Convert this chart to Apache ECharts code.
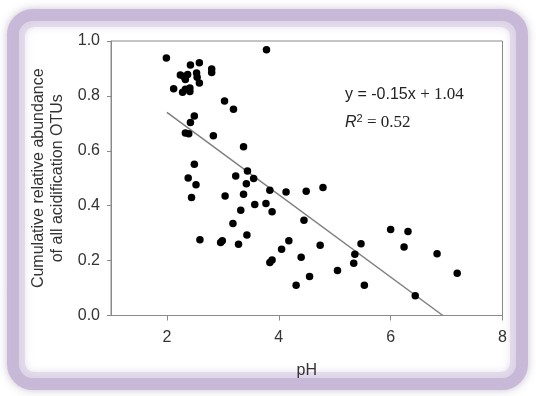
<!DOCTYPE html>
<html>
<head>
<meta charset="utf-8">
<script src="https://cdn.jsdelivr.net/npm/echarts@6/dist/echarts.min.js"></script>
<style>
html,body{margin:0;padding:0;background:#ffffff;}
#chart{width:536px;height:396px;}
</style>
</head>
<body>
<div id="chart"></div>
<script>
// pH values of each sample
const phValues = [
  1.99, 2.42, 2.58, 2.80, 2.80, 2.24, 2.30, 2.37, 2.53, 2.54,
  2.33, 2.58, 2.12, 2.28, 2.33, 2.41, 2.41, 3.03, 3.19, 2.49,
  2.42, 2.33, 2.39, 2.83, 3.37, 3.78, 2.49, 2.38, 3.23, 3.44,
  3.55, 3.42, 2.52, 2.44, 3.04, 3.37, 3.84, 4.13, 4.49, 4.79,
  3.57, 3.77, 3.88, 3.32, 4.45, 3.18, 3.43, 2.59, 2.96, 2.99,
  3.28, 4.18, 4.05, 3.84, 3.88, 4.40, 4.74, 4.31, 4.55, 5.05,
  5.47, 5.36, 5.34, 5.53, 6.00, 6.31, 6.24, 6.83, 7.19, 6.44
];
// cumulative relative abundance of acidification OTUs
const abundanceValues = [
  0.938, 0.913, 0.921, 0.898, 0.885, 0.876, 0.871, 0.878, 0.883, 0.868,
  0.860, 0.847, 0.826, 0.813, 0.824, 0.829, 0.816, 0.781, 0.751, 0.727,
  0.703, 0.665, 0.662, 0.655, 0.615, 0.968, 0.551, 0.501, 0.508, 0.526,
  0.499, 0.480, 0.476, 0.430, 0.435, 0.442, 0.456, 0.450, 0.453, 0.466,
  0.404, 0.408, 0.378, 0.383, 0.347, 0.335, 0.293, 0.276, 0.266, 0.272,
  0.260, 0.272, 0.241, 0.193, 0.202, 0.212, 0.256, 0.110, 0.142, 0.164,
  0.261, 0.223, 0.190, 0.110, 0.313, 0.306, 0.250, 0.225, 0.154, 0.072
];
// regression
const slope = -0.15;
const intercept = 1.04;
const rSquared = 0.52;
const fitStart = [2];
// axis ticks
const xTicks = [2, 4, 6, 8];
const yTicks = [0, 0.2, 0.4, 0.6, 0.8, 1.0];

const points = phValues.map((x, i) => [x, abundanceValues[i]]);
const fitEnd = -intercept / slope;
const fitLine = [[fitStart[0], intercept + slope * fitStart[0]], [fitEnd, 0]];

const sans = 'Liberation Sans, Arial, sans-serif';
const serif = 'Liberation Serif, Times New Roman, serif';
const txt = '#333333';
const axisCol = '#8a8a8a';

const chart = echarts.init(document.getElementById('chart'), null, {renderer: 'canvas'});
chart.setOption({
  animation: false,
  backgroundColor: '#ffffff',
  graphic: [
    {
      type: 'rect', z: -10, silent: true,
      shape: {x: 13, y: 15, width: 509, height: 369, r: 20},
      style: {fill: '#ffffff', stroke: '#c8b9d8', lineWidth: 12,
              shadowBlur: 10, shadowColor: 'rgba(150,135,165,0.45)'}
    },
    {
      type: 'rect', z: -9, silent: true,
      shape: {x: 22, y: 24, width: 491, height: 351, r: 12},
      style: {fill: 'rgba(0,0,0,0)', stroke: 'rgba(215,203,228,0.55)', lineWidth: 6,
              shadowBlur: 8, shadowColor: 'rgba(200,185,215,0.6)'}
    },
    {
      type: 'text', left: 345, top: 86, z: 10,
      style: {
        text: '{a|y = ' + slope.toFixed(2) + 'x }{b|+ ' + intercept.toFixed(2) + '}',
        rich: {
          a: {fontFamily: sans, fontSize: 16, fill: '#222'},
          b: {fontFamily: serif, fontSize: 17, fill: '#222'}
        }
      }
    },
    {
      type: 'text', left: 345, top: 113, z: 10,
      style: {
        text: '{r|R}{s|2}{b| = ' + rSquared.toFixed(2) + '}',
        rich: {
          r: {fontFamily: sans, fontStyle: 'italic', fontSize: 16, fill: '#222'},
          s: {fontFamily: sans, fontSize: 11, fill: '#222', verticalAlign: 'top', padding: [0, 0, 8, 0]},
          b: {fontFamily: serif, fontSize: 17, fill: '#222'}
        }
      }
    }
  ],
  grid: {
    left: 111, top: 41, right: 33.5, bottom: 80.5,
    show: true, borderColor: axisCol, borderWidth: 1, backgroundColor: 'rgba(0,0,0,0)'
  },
  xAxis: {
    type: 'value', min: 1, max: 8,
    name: 'pH', nameLocation: 'middle', nameGap: 47,
    nameTextStyle: {fontFamily: sans, fontSize: 16, color: txt},
    axisLine: {show: true, onZero: false, lineStyle: {color: axisCol, width: 1}},
    axisTick: {show: true, length: 5, customValues: xTicks, lineStyle: {color: axisCol}},
    axisLabel: {customValues: xTicks, margin: 14, fontFamily: sans, fontSize: 16, color: txt,
                formatter: v => String(v)},
    splitLine: {show: false}
  },
  yAxis: {
    type: 'value', min: 0, max: 1, interval: 0.2,
    name: 'Cumulative relative abundance\nof all acidification OTUs',
    nameLocation: 'middle', nameGap: 22, nameRotate: 90,
    nameTextStyle: {fontFamily: sans, fontSize: 16, color: txt, lineHeight: 19},
    axisLine: {show: true, lineStyle: {color: axisCol, width: 1}},
    axisTick: {show: true, length: 4, customValues: yTicks, lineStyle: {color: axisCol}},
    axisLabel: {customValues: yTicks, margin: 11, fontFamily: sans, fontSize: 16, color: txt,
                formatter: v => v.toFixed(1)},
    splitLine: {show: false}
  },
  series: [
    {
      type: 'line', data: fitLine, showSymbol: false, symbol: 'none',
      lineStyle: {color: '#7f7f7f', width: 1.5}, z: 2, silent: true
    },
    {
      type: 'scatter', data: points, symbolSize: 7.5,
      itemStyle: {color: '#000000', opacity: 1}, z: 3
    }
  ]
});
</script>
</body>
</html>
